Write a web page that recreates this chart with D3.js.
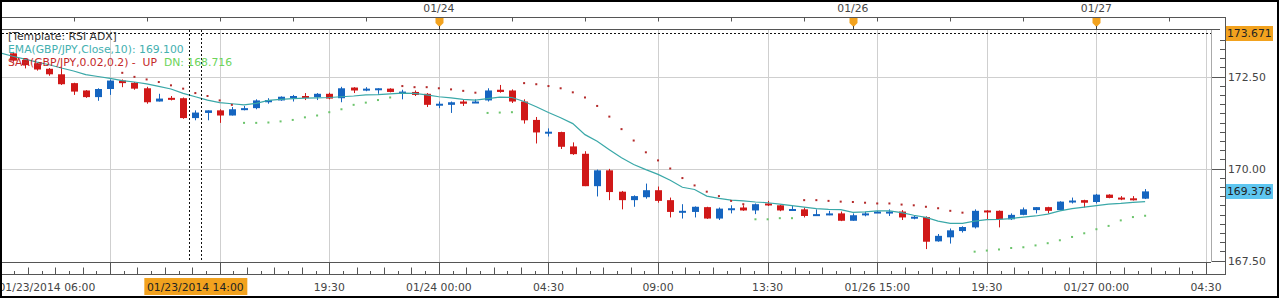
<!DOCTYPE html>
<html><head><meta charset="utf-8">
<script src="https://cdn.jsdelivr.net/npm/d3@7"></script>
<style>html,body{margin:0;padding:0;background:#fff;overflow:hidden}svg{display:block}</style>
</head><body><svg id="c" width="1280" height="299"></svg>
<script>
// ---------- data (30-minute bars, index 0 = 01/23/2014 06:00) ----------
const firstBar = 1;
const opens  = [173.13,172.95,172.86,172.71,172.56,172.32,172.12,171.94,172.16,172.39,172.33,172.18,171.82,171.92,171.91,171.37,171.51,171.58,171.44,171.59,171.64,171.80,171.85,171.95,171.97,171.94,172.03,171.91,172.20,172.14,172.15,172.17,172.08,172.08,172.03,171.74,171.73,171.82,171.78,171.85,172.14,172.12,171.82,171.32,170.99,170.99,170.60,170.40,169.52,169.95,169.37,169.14,169.22,169.41,169.14,168.84,168.82,168.95,168.64,168.90,168.94,168.86,169.05,169.00,168.88,168.89,168.71,168.73,168.78,168.58,168.73,168.82,168.82,168.83,168.68,168.68,168.02,168.13,168.30,168.40,168.86,168.85,168.62,168.74,168.87,168.95,168.87,169.11,169.14,169.09,169.29,169.21,169.19,169.18];
const highs  = [173.17,172.97,172.87,172.73,172.76,172.33,172.13,172.18,172.42,172.42,172.35,172.22,172.03,171.97,171.93,171.58,171.58,171.61,171.67,171.70,171.88,171.91,171.96,172.00,172.05,172.05,172.06,172.22,172.21,172.21,172.18,172.18,172.14,172.12,172.05,171.82,171.82,171.88,171.88,172.18,172.27,172.15,171.88,171.40,171.09,171.00,170.71,170.47,169.97,169.99,169.39,169.27,169.59,169.51,169.21,169.03,168.97,168.96,168.94,169.00,169.00,169.05,169.12,169.01,168.98,168.94,168.89,168.85,168.83,168.78,168.82,168.85,168.89,168.87,168.73,168.70,168.22,168.37,168.43,168.89,168.87,168.86,168.78,168.94,168.95,168.96,169.11,169.21,169.15,169.31,169.30,169.25,169.25,169.44];
const lows   = [172.90,172.72,172.66,172.52,172.27,172.00,171.92,171.84,172.00,172.21,172.14,171.76,171.82,171.85,171.35,171.31,171.31,171.24,171.44,171.58,171.61,171.76,171.84,171.82,171.86,171.86,171.88,171.80,172.05,172.10,172.03,172.07,171.88,171.97,171.67,171.64,171.51,171.70,171.78,171.82,172.06,171.78,171.22,170.68,170.87,170.53,170.37,169.52,169.24,169.14,168.89,168.96,169.18,169.07,168.67,168.64,168.67,168.63,168.60,168.78,168.85,168.76,168.98,168.84,168.85,168.67,168.71,168.73,168.57,168.58,168.70,168.80,168.71,168.60,168.62,167.81,168.01,167.96,168.26,168.37,168.62,168.40,168.60,168.73,168.78,168.78,168.86,169.05,168.94,169.05,169.19,169.14,169.13,169.17];
const closes = [172.93,172.81,172.69,172.56,172.29,172.09,171.94,172.16,172.39,172.32,172.17,171.80,171.90,171.90,171.37,171.52,171.58,171.44,171.61,171.64,171.85,171.86,171.95,171.97,171.94,172.03,171.90,172.18,172.12,172.17,172.18,172.08,172.09,172.00,171.73,171.76,171.80,171.76,171.82,172.12,172.08,171.82,171.31,170.98,171.00,170.59,170.39,169.52,169.95,169.36,169.14,169.25,169.41,169.12,168.82,168.85,168.96,168.64,168.91,168.92,168.86,169.03,169.00,168.86,168.90,168.71,168.76,168.78,168.58,168.73,168.78,168.83,168.83,168.67,168.69,168.01,168.17,168.32,168.41,168.85,168.82,168.62,168.74,168.89,168.95,168.85,169.10,169.13,169.07,169.29,169.20,169.19,169.18,169.378];
// EMA(10) from bar 0
const ema = [173.14,173.05,172.97,172.89,172.82,172.73,172.65,172.55,172.50,172.45,
172.39,172.35,172.30,172.23,172.16,172.04,171.95,171.86,171.79,171.76,
171.73,171.77,171.85,171.88,171.90,171.91,171.92,171.93,171.95,171.97,
172.00,172.01,172.03,172.05,172.04,172.00,171.95,171.92,171.88,171.86,
171.90,171.94,171.93,171.82,171.68,171.52,171.38,171.22,170.92,170.74,
170.51,170.29,170.11,169.97,169.84,169.68,169.49,169.43,169.25,169.19,
169.14,169.12,169.09,169.07,169.03,168.99,168.95,168.91,168.89,168.88,
168.81,168.82,168.85,168.85,168.80,168.73,168.67,168.57,168.51,168.51,
168.57,168.61,168.62,168.64,168.68,168.71,168.76,168.85,168.91,168.95,
168.99,169.03,169.05,169.08,169.10];
// Parabolic SAR from bar 10
const sarFirst = 10;
const sar = [172.60,172.49,172.42,172.35,172.26,172.17,172.05,171.97,171.85,171.73,
171.24,171.24,171.25,171.28,171.32,171.39,171.44,171.53,171.61,171.73,
171.79,171.86,171.93,172.24,172.21,172.21,172.18,172.15,172.11,172.06,
171.51,171.52,171.53,172.32,172.29,172.24,172.18,172.07,171.93,171.70,
171.41,171.07,170.76,170.44,170.22,170.00,169.74,169.54,169.37,169.25,
169.12,169.03,168.62,168.62,168.65,168.65,169.14,169.14,169.12,169.10,
169.09,169.07,169.05,169.05,169.02,169.00,168.96,168.92,168.85,168.80,
167.74,167.77,167.80,167.84,167.86,167.91,167.97,168.05,168.14,168.24,
168.35,168.44,168.59,168.68,168.716];
const xLabelIdx = [27,36,45,54,63,72,81,90,99];
const xLabels = ["19:30","01/24 00:00","04:30","09:00","13:30","01/26 15:00","19:30","01/27 00:00","04:30"];
const firstLabel = "01/23/2014 06:00";
const dayIdx = [36,70,90];
const dayLabels = ["01/24","01/26","01/27"];
const yTicks = [172.5,170.0,167.5];
const cursorIdx = 16, cursorLabel = "01/23/2014 14:00", cursorPrice = 173.671;
const lastPrice = 169.378;
const legendLines = [
  [{t:"[Template: RSI ADX]",c:"#333"}],
  [{t:"EMA(GBP/JPY,Close,10): 169.100",c:"#44b0b0"}],
  [{t:"SAR(GBP/JPY,0.02,0.2) -  UP  ",c:"#c42828"},{t:"DN: 168.716",c:"#6cd45a"}]
];

// ---------- drawing ----------
const svg = d3.select('#c');
const FONT = "DejaVu Sans";
const FS = 10.8;
const PL=2, PR=1211, PT=30, PB=262, AX=1225;
const x = d3.scaleLinear().domain([0,99]).range([0.5,1206]);
const y = d3.scaleLinear().domain([167.5,172.5]).range([260.5,76.5]);
const bars = opens.map((o,k)=>({i:k+firstBar,o,h:highs[k],l:lows[k],c:closes[k]}));

svg.append('rect').attr('width',1280).attr('height',299).attr('fill','#fff');
svg.append('defs').append('clipPath').attr('id','pc').append('rect')
  .attr('x',PL).attr('y',PT).attr('width',PR-PL).attr('height',PB-PT);

const grid = svg.append('g').attr('stroke','#cfcfcf').attr('stroke-width',1);
const majors = d3.range(9,100,9);
grid.selectAll('line.v').data(majors).join('line')
  .attr('x1',d=>Math.round(x(d))+0.5).attr('x2',d=>Math.round(x(d))+0.5).attr('y1',PT).attr('y2',PB);
grid.selectAll('line.h').data(yTicks.slice(0,2)).join('line')
  .attr('x1',PL).attr('x2',PR).attr('y1',d=>Math.round(y(d))+0.5).attr('y2',d=>Math.round(y(d))+0.5);

const plot = svg.append('g').attr('clip-path','url(#pc)');
const col = d=> d.c>d.o ? '#1565c0' : '#d01818';
const cg = plot.append('g');
cg.selectAll('line').data(bars).join('line')
  .attr('x1',d=>Math.round(x(d.i))+0.5).attr('x2',d=>Math.round(x(d.i))+0.5)
  .attr('y1',d=>y(d.h)).attr('y2',d=>y(d.l)).attr('stroke',col).attr('stroke-width',1);
cg.selectAll('rect').data(bars).join('rect')
  .attr('x',d=>Math.round(x(d.i))-3).attr('width',7)
  .attr('y',d=>Math.min(y(d.o),y(d.c)))
  .attr('height',d=>Math.max(2,Math.abs(y(d.o)-y(d.c))))
  .attr('fill',col);

plot.append('path').datum(ema)
  .attr('d',d3.line().x((d,i)=>x(i)).y(d=>y(d)))
  .attr('fill','none').attr('stroke','#3aa8a8').attr('stroke-width',1.2);

const sarPts = sar.map((v,k)=>({i:k+sarFirst,v}));
plot.selectAll('rect.sar').data(sarPts).join('rect').attr('class','sar')
  .attr('x',d=>x(d.i)-1).attr('y',d=>y(d.v)-1).attr('width',2).attr('height',2)
  .attr('fill',d=>{const b=bars[d.i-firstBar];return d.v>b.c?'#b42a2a':'#6cc46c';});

// cursor dashed lines
const cur = svg.append('g').attr('stroke','#111').attr('stroke-width',1).attr('stroke-dasharray','2,2');
[cursorIdx-0.5,cursorIdx+0.5].forEach(v=>cur.append('line')
  .attr('x1',Math.round(x(v))+0.5).attr('x2',Math.round(x(v))+0.5).attr('y1',PT).attr('y2',PB));
cur.append('line').attr('x1',PL).attr('x2',PR)
  .attr('y1',Math.round(y(cursorPrice))+0.5).attr('y2',Math.round(y(cursorPrice))+0.5);

// frame lines
const fr = svg.append('g').attr('stroke','#555').attr('stroke-width',1);
fr.append('line').attr('x1',PL).attr('x2',AX).attr('y1',17.5).attr('y2',17.5);
fr.append('line').attr('x1',PL).attr('x2',1220).attr('y1',PT-0.5).attr('y2',PT-0.5);
fr.append('line').attr('x1',PL).attr('x2',PR).attr('y1',PB+0.5).attr('y2',PB+0.5);
fr.append('line').attr('x1',PL).attr('x2',AX).attr('y1',274.5).attr('y2',274.5);
fr.append('line').attr('x1',AX+0.5).attr('x2',AX+0.5).attr('y1',17).attr('y2',275);
svg.append('line').attr('x1',PR+0.5).attr('x2',PR+0.5).attr('y1',PT).attr('y2',PB)
  .attr('stroke','#aaa');

// top ticks every 6 bars
fr.selectAll('line.tt').data(d3.range(6,100,6)).join('line')
  .attr('x1',d=>Math.round(x(d))+0.5).attr('x2',d=>Math.round(x(d))+0.5).attr('y1',17.5).attr('y2',21.5);

// bottom ticks
fr.selectAll('line.bm').data(d3.range(0,100,9)).join('line')
  .attr('x1',d=>Math.round(x(d))+0.5).attr('x2',d=>Math.round(x(d))+0.5).attr('y1',PB).attr('y2',275);
const minors=[]; d3.range(0,99,9).forEach(m=>{for(let k=1;k<8;k++) minors.push({v:m+9*k/8,k});});
fr.selectAll('line.bn').data(minors).join('line')
  .attr('x1',d=>Math.round(x(d.v))+0.5).attr('x2',d=>Math.round(x(d.v))+0.5)
  .attr('y1',d=>d.k%2===0?267.5:271).attr('y2',274.5);

// right axis ticks
const rt = d3.range(0,25).map(k=>167.5+k*0.25);
fr.selectAll('line.rt').data(rt).join('line')
  .attr('x1',d=>(Math.abs(d%2.5)<1e-6)?PR+1:AX-5).attr('x2',AX)
  .attr('y1',d=>Math.round(y(d))+0.5).attr('y2',d=>Math.round(y(d))+0.5);

// day markers
const dm = svg.append('g');
dm.selectAll('path').data(dayIdx).join('path')
  .attr('d',d=>{const c=Math.round(x(d))+0.5;return `M${c-4},18 L${c+4},18 L${c+4},23 L${c},27 L${c-4},23 Z`;})
  .attr('fill','#f2a21e');
dm.selectAll('line').data(dayIdx).join('line')
  .attr('x1',d=>Math.round(x(d))+0.5).attr('x2',d=>Math.round(x(d))+0.5).attr('y1',26).attr('y2',30)
  .attr('stroke','#444');
dm.selectAll('text').data(dayIdx).join('text')
  .attr('x',d=>x(d)).attr('y',12).attr('text-anchor','middle')
  .attr('font-family',FONT).attr('font-size',FS).attr('fill','#444').text((d,i)=>dayLabels[i]);

// y labels
const yl = svg.append('g').attr('font-family',FONT).attr('font-size',FS).attr('fill','#444');
yl.selectAll('text').data(yTicks).join('text')
  .attr('x',AX+3).attr('y',d=>y(d)+4).text(d=>d3.format('.2f')(d));
function tag(yv,txt,fill){
  const cy=y(yv);
  svg.append('rect').attr('x',AX+1).attr('y',Math.round(cy)-7).attr('width',47).attr('height',15).attr('fill',fill);
  svg.append('text').attr('x',AX+2).attr('y',cy+4).attr('font-family',FONT).attr('font-size',FS)
    .attr('fill','#222').text(txt);
}
tag(cursorPrice,d3.format('.3f')(cursorPrice),'#f2a21e');
tag(lastPrice,d3.format('.3f')(lastPrice),'#5ec6f0');

// x labels
const xl = svg.append('g').attr('font-family',FONT).attr('font-size',FS).attr('fill','#444');
xl.append('text').attr('x',x(0)-2).attr('y',291).text(firstLabel);
xl.selectAll('text.l').data(xLabelIdx).join('text')
  .attr('x',d=>x(d)).attr('y',291).attr('text-anchor','middle').text((d,i)=>xLabels[i]);
const cx = x(cursorIdx);
svg.append('rect').attr('x',cx-51).attr('y',278).attr('width',103).attr('height',17).attr('fill','#f2a21e');
svg.append('text').attr('x',cx).attr('y',291).attr('text-anchor','middle')
  .attr('font-family',FONT).attr('font-size',FS).attr('fill','#222').text(cursorLabel);

// legend
const lg = svg.append('g').attr('font-family',FONT).attr('font-size',FS);
legendLines.forEach((parts,r)=>{
  const t = lg.append('text').attr('x',8).attr('y',40+r*13);
  parts.forEach(p=>t.append('tspan').attr('fill',p.c).attr('xml:space','preserve').text(p.t));
});

// outer border
svg.append('rect').attr('x',1).attr('y',1).attr('width',1277).attr('height',296)
  .attr('fill','none').attr('stroke','#000').attr('stroke-width',2);
</script></body></html>
